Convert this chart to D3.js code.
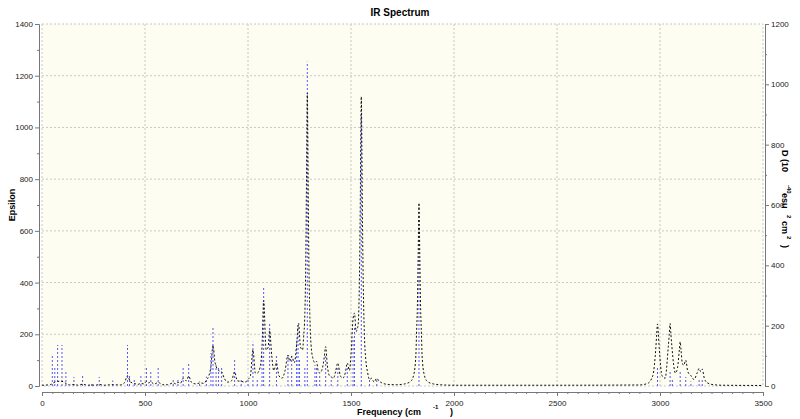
<!DOCTYPE html>
<html>
<head>
<meta charset="utf-8">
<script src="https://cdn.jsdelivr.net/npm/d3@7"></script>
<style>
  body { margin: 0; background: #fff; }
  text { font-family: "Liberation Sans", Arial, sans-serif; }
</style>
</head>
<body>
<div id="chart"></div>
<script>
// curve: frequency (cm-1) , epsilon
var curveFreq = [0,40,55,76,97,116,135,155,175,197,220,241,260,278,300,343,380,400,415,430,448,465,480,495,507,518,528,545,564,585,610,637,650,660,672,685,700,712,725,745,770,785,798,810,820,830,840,857,872,885,900,920,935,948,967,985,1000,1012,1024,1036,1045,1058,1068,1076,1088,1098,1105,1115,1125,1138,1150,1165,1180,1194,1203,1212,1225,1236,1245,1255,1265,1270,1276,1281,1284,1286,1288,1290,1292,1295,1300,1306,1314,1325,1333,1340,1348,1360,1370,1377,1385,1395,1404,1415,1425,1436,1448,1460,1472,1482,1492,1500,1510,1517,1525,1530,1535,1541,1545,1548,1550,1552,1555,1559,1565,1572,1580,1590,1600,1612,1625,1635,1650,1680,1720,1760,1790,1805,1815,1818,1822,1826,1828,1830,1832,1834,1838,1842,1845,1855,1870,1900,1950,2000,2500,2900,2940,2965,2980,2984,2988,2992,2996,3010,3025,3040,3045,3049,3053,3058,3075,3085,3094,3098,3102,3108,3115,3122,3125,3128,3135,3150,3165,3180,3190,3198,3205,3215,3230,3260,3300,3500];
var curveEps  = [3,5,12,18,18,10,4,6,3,7,3,4,3,6,3,5,4,12,40,15,10,6,10,8,18,12,16,7,14,5,5,12,8,14,10,30,20,38,15,8,12,10,22,40,75,158,90,60,55,30,15,20,55,20,18,15,25,40,140,50,50,70,150,330,140,150,215,120,60,90,40,30,60,120,95,115,90,160,243,150,140,190,280,520,800,1000,1133,1000,800,520,280,160,110,90,95,60,50,65,110,152,80,40,35,30,55,89,40,30,50,89,60,120,260,282,210,220,240,420,700,1000,1119,1000,700,420,200,100,55,25,30,15,30,20,12,6,5,8,18,45,120,200,300,500,620,708,620,500,300,200,120,45,18,8,4,3,3,4,10,40,150,200,240,200,150,40,30,150,200,242,200,150,50,70,140,171,140,90,80,95,100,90,55,40,25,50,68,55,65,30,12,5,3,2];

// sticks: frequency (cm-1) , D (10^-40 esu^2 cm^2)
var stickFreq = [50,62,76,97,116,155,197,241,278,343,415,425,448,480,507,528,564,637,660,685,712,765,798,820,830,845,857,872,935,967,1000,1024,1045,1068,1076,1105,1138,1194,1212,1236,1243,1250,1276,1288,1325,1333,1348,1377,1404,1436,1482,1510,1517,1550,1590,1625,1830,2988,3049,3060,3098,3125,3150,3190,3205];
var stickD    = [106,60,136,136,47,30,33,10,30,18,136,40,20,33,60,50,64,20,22,60,73,15,31,109,197,70,60,60,86,20,25,147,25,100,331,211,106,106,100,150,202,90,60,1075,70,60,40,100,20,60,60,160,200,900,20,25,530,63,47,25,50,30,15,20,20];

var xTicks = [0,500,1000,1500,2000,2500,3000,3500];
var epsTicks = [0,200,400,600,800,1000,1200,1400];
var dTicks = [0,200,400,600,800,1000,1200];

var W = 800, H = 419;
var pL = 42, pR = 763, pT = 24, pB = 386;

var svg = d3.select("#chart").append("svg")
  .attr("width", W).attr("height", H);

var x = d3.scaleLinear().domain([0,3500]).range([pL,pR]);
var yL = d3.scaleLinear().domain([0,1400]).range([pB,pT]);
var yR = d3.scaleLinear().domain([0,1200]).range([pB,pT]);

// plot background
svg.append("rect")
  .attr("x", pL).attr("y", pT)
  .attr("width", pR-pL).attr("height", pB-pT)
  .attr("fill", "#fdfdf1")
  .attr("stroke", "#c8c8c8")
  .attr("stroke-dasharray", "2,2");

// grid
svg.selectAll(".vg").data(xTicks.slice(1,-1)).enter().append("line")
  .attr("x1", d => x(d)).attr("x2", d => x(d))
  .attr("y1", pT).attr("y2", pB)
  .attr("stroke", "#c8c8c8").attr("stroke-dasharray", "2,2");
svg.selectAll(".hg").data(epsTicks.slice(1,-1)).enter().append("line")
  .attr("x1", pL).attr("x2", pR)
  .attr("y1", d => yL(d)).attr("y2", d => yL(d))
  .attr("stroke", "#c8c8c8").attr("stroke-dasharray", "2,2");

// sticks
svg.selectAll(".stick").data(stickFreq).enter().append("line")
  .attr("x1", d => x(d)).attr("x2", d => x(d))
  .attr("y1", yR(0)).attr("y2", (d,i) => yR(stickD[i]))
  .attr("stroke", "#5656ff")
  .attr("stroke-width", 1)
  .attr("stroke-dasharray", "2,2");

// spectrum line
var line = d3.line()
  .x(d => x(d[0]))
  .y(d => yL(d[1]))
  .curve(d3.curveMonotoneX);

svg.append("path")
  .datum(curveFreq.map((f,i) => [f, curveEps[i]]))
  .attr("d", line)
  .attr("fill", "none")
  .attr("stroke", "#111")
  .attr("stroke-width", 1)
  .attr("stroke-dasharray", "2,2");

// axes
function styleAxis(g) {
  g.selectAll(".domain").attr("stroke", "#777");
  g.selectAll(".tick line").attr("stroke", "#777");
  g.selectAll("text").attr("font-size", 8).attr("fill", "#222")
    .attr("font-family", "Liberation Sans, Arial, sans-serif");
}
var fmt = d3.format("d");

svg.append("g").attr("transform", "translate(39,0)")
  .call(d3.axisLeft(yL).tickValues(d3.range(100,1400,200)).tickSize(2).tickSizeOuter(0).tickFormat(""))
  .call(styleAxis);
svg.append("g").attr("transform", "translate(39,0)")
  .call(d3.axisLeft(yL).tickValues(epsTicks).tickSize(4).tickSizeOuter(0).tickPadding(2).tickFormat(fmt))
  .call(styleAxis);

svg.append("g").attr("transform", "translate(765,0)")
  .call(d3.axisRight(yR).tickValues(d3.range(100,1200,200)).tickSize(2).tickSizeOuter(0).tickFormat(""))
  .call(styleAxis);
svg.append("g").attr("transform", "translate(765,0)")
  .call(d3.axisRight(yR).tickValues(dTicks).tickSize(4).tickSizeOuter(0).tickPadding(2).tickFormat(fmt))
  .call(styleAxis);

svg.append("g").attr("transform", "translate(0,392)")
  .call(d3.axisBottom(x).tickValues(d3.range(50,3500,50).filter(d => d % 500)).tickSize(2).tickSizeOuter(0).tickFormat(""))
  .call(styleAxis);
svg.append("g").attr("transform", "translate(0,392)")
  .call(d3.axisBottom(x).tickValues(xTicks).tickSize(4).tickSizeOuter(0).tickPadding(4).tickFormat(fmt))
  .call(styleAxis);

// titles
svg.append("text").attr("x", 400).attr("y", 16)
  .attr("text-anchor", "middle").attr("font-size", 10).attr("font-weight", "bold")
  .text("IR Spectrum");

svg.append("text")
  .attr("transform", "translate(15,205) rotate(-90)")
  .attr("text-anchor", "middle").attr("font-size", 9).attr("font-weight", "bold")
  .text("Epsilon");

var xl = svg.append("g").attr("font-size", 9).attr("font-weight", "bold");
xl.append("text").attr("x", 357).attr("y", 415).text("Frequency (cm");
xl.append("text").attr("x", 433).attr("y", 409).attr("font-size", 6).text("-1");
xl.append("text").attr("x", 450).attr("y", 415).text(")");

var rl = svg.append("g").attr("transform", "translate(782,150) rotate(90)")
  .attr("font-size", 9).attr("font-weight", "bold");
rl.append("text").attr("x", 0).attr("y", 0).text("D (10");
rl.append("text").attr("x", 35).attr("y", -5).attr("font-size", 6).text("-40");
rl.append("text").attr("x", 43).attr("y", 0).text("esu");
rl.append("text").attr("x", 65).attr("y", -5).attr("font-size", 6).text("2");
rl.append("text").attr("x", 71).attr("y", 0).text("cm");
rl.append("text").attr("x", 86).attr("y", -5).attr("font-size", 6).text("2");
rl.append("text").attr("x", 95).attr("y", 0).text(")");
</script>
</body>
</html>
